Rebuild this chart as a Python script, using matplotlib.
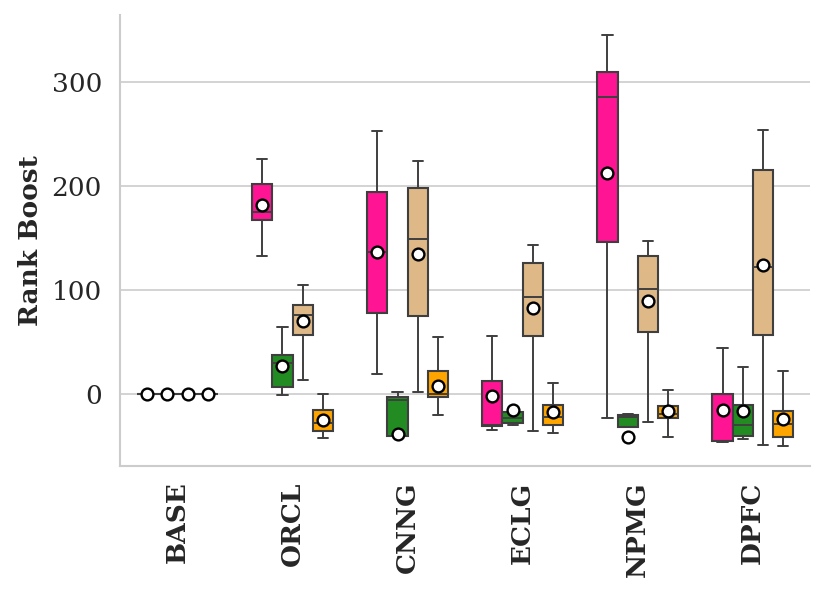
import matplotlib
matplotlib.use("Agg")
import matplotlib.pyplot as plt
import seaborn as sns
import numpy as np

categories = ["BASE", "ORCL", "CNNG", "ECLG", "NPMG", "DPFC"]
hue_colors = ["deeppink", "forestgreen", "burlywood", "orange"]

# box stats, one list per hue, one value per category
pink_whislo = [0, 133, 19, -34, -23, -46]
pink_q1 = [0, 167, 78, -31, 146, -45]
pink_med = [0, 175, 136, -30, 285, -45]
pink_q3 = [0, 202, 194, 13, 309, 0]
pink_whishi = [0, 226, 253, 56, 345, 44]
pink_mean = [0, 182, 136, -2, 212, -15]

green_whislo = [0, -1, -40, -30, -32, -43]
green_q1 = [0, 7, -40, -28, -32, -40]
green_med = [0, 30, -6, -23, -22, -30]
green_q3 = [0, 38, -3, -17, -20, -10]
green_whishi = [0, 64, 2, -14, -19, 26]
green_mean = [0, 27, -38, -15, -41, -16]

tan_whislo = [0, 14, 2, -35, -27, -49]
tan_q1 = [0, 57, 75, 56, 60, 57]
tan_med = [0, 76, 149, 93, 101, 122]
tan_q3 = [0, 86, 198, 126, 133, 215]
tan_whishi = [0, 105, 224, 143, 147, 254]
tan_mean = [0, 70, 135, 83, 89, 124]

orange_whislo = [0, -42, -20, -37, -41, -50]
orange_q1 = [0, -35, -3, -30, -23, -41]
orange_med = [0, -28, 0, -22, -19, -29]
orange_q3 = [0, -15, 22, -10, -11, -16]
orange_whishi = [0, 0, 55, 11, 4, 22]
orange_mean = [0, -25, 8, -17, -16, -24]

series = [
    (pink_whislo, pink_q1, pink_med, pink_q3, pink_whishi, pink_mean),
    (green_whislo, green_q1, green_med, green_q3, green_whishi, green_mean),
    (tan_whislo, tan_q1, tan_med, tan_q3, tan_whishi, tan_mean),
    (orange_whislo, orange_q1, orange_med, orange_q3, orange_whishi, orange_mean),
]

sns.set_theme(style="whitegrid")
plt.rcParams["font.family"] = ["DejaVu Serif"]

fig = plt.figure(figsize=(8.31, 5.99), dpi=100)
ax = fig.add_axes([0.1444, 0.222, 0.8306, 0.753])

width = 0.7 / 4
line_kw = dict(color="#3f3f3f", linewidth=1.4)
for h, (wlo, q1, med, q3, whi, mean) in enumerate(series):
    offset = -0.35 + width * (h + 0.5)
    stats = []
    for i in range(len(categories)):
        stats.append(dict(whislo=wlo[i], q1=q1[i], med=med[i], q3=q3[i],
                          whishi=whi[i], mean=mean[i], fliers=[]))
    pos = np.arange(len(categories)) + offset
    ax.bxp(stats, positions=pos, widths=width, patch_artist=True,
           showmeans=True, manage_ticks=False,
           boxprops=dict(facecolor=hue_colors[h], edgecolor="#3f3f3f", linewidth=1.5),
           whiskerprops=line_kw, capprops=line_kw, medianprops=line_kw,
           capwidths=width * 0.5,
           meanprops=dict(marker="o", markerfacecolor="white",
                          markeredgecolor="black", markersize=8.5,
                          markeredgewidth=1.7))

ax.set_xlim(-0.5, len(categories) - 0.5)
ax.set_ylim(-69, 364)
ax.set_xticks(np.arange(len(categories)))
ax.set_xticklabels(categories, rotation=90, fontsize=19, fontweight="bold")
ax.set_yticks([0, 100, 200, 300])
ax.tick_params(axis="y", labelsize=19, pad=7)
ax.tick_params(axis="x", pad=5)
ax.set_ylabel("Rank Boost", fontsize=19, fontweight="bold", labelpad=6)
ax.grid(axis="x", visible=False)
ax.grid(axis="y", color="#cccccc", linewidth=1.2)
ax.set_axisbelow(True)
for s in ["top", "right"]:
    ax.spines[s].set_visible(False)
for s in ["left", "bottom"]:
    ax.spines[s].set_color("#cccccc")
    ax.spines[s].set_linewidth(1.5)

fig.savefig("out.png", dpi=100)
